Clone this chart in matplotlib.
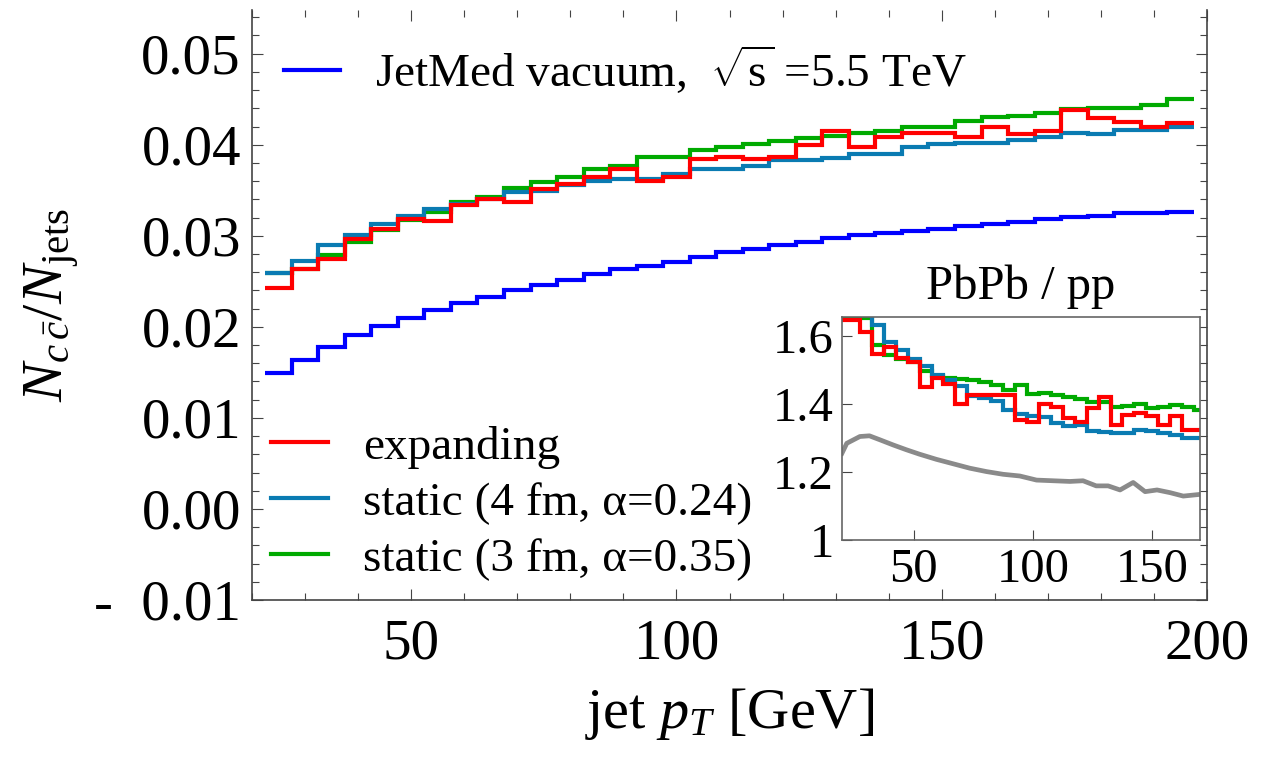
# charm-tagged jet fraction vs jet pT, with PbPb/pp ratio inset

import numpy as np
import matplotlib
matplotlib.use('Agg')
from matplotlib import pyplot as plt
from matplotlib.ticker import MultipleLocator, FixedLocator

plt.rcParams['font.family'] = 'Liberation Serif'
plt.rcParams['mathtext.fontset'] = 'custom'
plt.rcParams['mathtext.rm'] = 'Liberation Serif'
plt.rcParams['mathtext.it'] = 'Liberation Serif:italic'

# 5 GeV bins, centres in GeV
pt = np.arange(25, 200, 5)

vacuum = [0.0149, 0.0164, 0.0178, 0.0191, 0.0201, 0.0210, 0.0218, 0.0226, 0.0233, 0.0241,
          0.0246, 0.0251, 0.0258, 0.0263, 0.0267, 0.0271, 0.0277, 0.0282, 0.0286, 0.0290,
          0.0293, 0.0298, 0.0301, 0.0303, 0.0305, 0.0308, 0.0311, 0.0313, 0.0315, 0.0318,
          0.0321, 0.0322, 0.0325, 0.0325, 0.0326]
expanding = [0.0243, 0.0264, 0.0274, 0.0297, 0.0307, 0.0318, 0.0316, 0.0334, 0.0340, 0.0337,
             0.0351, 0.0357, 0.0365, 0.0373, 0.0360, 0.0365, 0.0384, 0.0387, 0.0384, 0.0387,
             0.0400, 0.0415, 0.0398, 0.0409, 0.0413, 0.0413, 0.0409, 0.0420, 0.0412, 0.0415,
             0.0438, 0.0429, 0.0425, 0.0420, 0.0424]
static4 = [0.0259, 0.0272, 0.0290, 0.0301, 0.0313, 0.0322, 0.0329, 0.0335, 0.0340, 0.0348,
           0.0349, 0.0356, 0.0360, 0.0362, 0.0362, 0.0368, 0.0373, 0.0373, 0.0377, 0.0383,
           0.0383, 0.0385, 0.0390, 0.0390, 0.0398, 0.0401, 0.0402, 0.0402, 0.0405, 0.0409,
           0.0413, 0.0412, 0.0416, 0.0416, 0.0420]
static3 = [0.0259, 0.0264, 0.0279, 0.0293, 0.0306, 0.0317, 0.0326, 0.0337, 0.0343, 0.0353,
           0.0359, 0.0365, 0.0373, 0.0377, 0.0387, 0.0387, 0.0394, 0.0398, 0.0401, 0.0404,
           0.0407, 0.0410, 0.0413, 0.0415, 0.0420, 0.0420, 0.0426, 0.0431, 0.0432, 0.0435,
           0.0439, 0.0440, 0.0440, 0.0444, 0.0450]

# inset: PbPb / pp ratio, bins 25..170 GeV
pt_ratio = np.arange(25, 175, 5)
ratio_exp = [1.647, 1.611, 1.546, 1.568, 1.536, 1.524, 1.450, 1.477, 1.458, 1.400,
             1.426, 1.426, 1.426, 1.426, 1.353, 1.348, 1.400, 1.392, 1.358, 1.348,
             1.389, 1.420, 1.338, 1.368, 1.374, 1.365, 1.338, 1.363, 1.324, 1.324]
ratio_s4 = [1.740, 1.660, 1.632, 1.583, 1.559, 1.531, 1.510, 1.485, 1.471, 1.453,
            1.422, 1.417, 1.407, 1.382, 1.371, 1.363, 1.361, 1.343, 1.336, 1.337,
            1.319, 1.318, 1.314, 1.313, 1.322, 1.319, 1.314, 1.307, 1.301, 1.301]
ratio_s3 = [1.652, 1.652, 1.574, 1.544, 1.532, 1.522, 1.495, 1.481, 1.476, 1.473,
            1.469, 1.465, 1.456, 1.441, 1.456, 1.429, 1.433, 1.426, 1.420, 1.414,
            1.404, 1.404, 1.392, 1.394, 1.400, 1.387, 1.390, 1.397, 1.392, 1.382]
gray_pt = [20, 22, 27.5, 31.5, 36, 41.5, 47, 52.5, 59.5, 66.5, 73.5, 80.5, 87.5, 94.5,
           101.5, 108.5, 115.5, 121, 126.5, 131.5, 136.5, 142, 147, 152, 157.5, 163, 170]
gray_ratio = [1.255, 1.284, 1.304, 1.306, 1.294, 1.279, 1.265, 1.252, 1.237, 1.224,
              1.211, 1.201, 1.193, 1.188, 1.176, 1.174, 1.172, 1.174, 1.159, 1.159,
              1.147, 1.169, 1.142, 1.147, 1.139, 1.129, 1.134]

yticks = [-0.01, 0.0, 0.01, 0.02, 0.03, 0.04, 0.05]
ylabels = ['-  0.01', '0.00', '0.01', '0.02', '0.03', '0.04', '0.05']

c_blue = '#0000ff'
c_red = '#ff0000'
c_teal = '#0a7bb2'
c_green = '#00aa00'
c_gray = '#8a8a8a'
spine_col = '#444444'
lw = 3.0

fig = plt.figure(figsize=(12.78, 7.59), dpi=100)
ax = fig.add_axes([252/1278, 1-600/759, 955/1278, 590/759])

edges = np.append(pt - 2.5, pt[-1] + 2.5)
h_vac = ax.stairs(vacuum, edges, color=c_blue, lw=lw, baseline=None)
h_s3 = ax.stairs(static3, edges, color=c_green, lw=lw, baseline=None)
h_s4 = ax.stairs(static4, edges, color=c_teal, lw=lw, baseline=None)
h_exp = ax.stairs(expanding, edges, color=c_red, lw=lw, baseline=None)

ax.set_xlim(20, 200)
ax.set_ylim(-0.01, 0.0548)
ax.xaxis.set_major_locator(FixedLocator([50, 100, 150, 200]))
ax.xaxis.set_minor_locator(MultipleLocator(10))
ax.yaxis.set_major_locator(FixedLocator(yticks))
ax.set_yticklabels(ylabels)
ax.yaxis.set_minor_locator(MultipleLocator(0.002))
ax.tick_params(which='both', direction='in', top=True, right=True, labelsize=41,
               width=0.8, color=spine_col)
ax.tick_params(axis='y', which='major', length=8, pad=8)
ax.tick_params(axis='x', which='major', length=8, pad=13)
ax.tick_params(which='minor', length=5)
ax.spines['top'].set_visible(False)
for s in ['left', 'right', 'bottom']:
    ax.spines[s].set_color(spine_col)
    ax.spines[s].set_linewidth(1.2)

ax.set_ylabel(r'$N_{c\,\bar{c}}/N_{\mathrm{jets}}$', fontsize=42)
ax.yaxis.set_label_coords(-0.178, 0.5)
ax.set_xlabel(r'jet $p_T$ [GeV]', fontsize=42)
ax.xaxis.set_label_coords(0.5, -0.146)

leg1 = ax.legend([h_vac], [r'JetMed vacuum,  $\sqrt{\mathrm{s}}$ =5.5 TeV'],
                 loc='center left', bbox_to_anchor=(0.0335, 0.898), frameon=False,
                 fontsize=34, handlelength=1.18, handletextpad=0.74,
                 borderpad=0, borderaxespad=0)
ax.add_artist(leg1)
ax.legend([h_exp, h_s4, h_s3],
          ['expanding', 'static (4 fm, α=0.24)', 'static (3 fm, α=0.35)'],
          loc='center left', bbox_to_anchor=(0.02, 0.164), frameon=False,
          fontsize=34, handlelength=1.2, handletextpad=0.74, labelspacing=0.27,
          borderpad=0, borderaxespad=0)

# inset
axin = fig.add_axes([842/1278, 1-540/759, 358/1278, 223/759])
redges = np.append(pt_ratio - 2.5, pt_ratio[-1] + 2.5)
redges[0] = 20
axin.plot(gray_pt, gray_ratio, color=c_gray, lw=3.4)
axin.stairs(ratio_s3, redges, color=c_green, lw=lw, baseline=None)
axin.stairs(ratio_s4, redges, color=c_teal, lw=lw, baseline=None)
axin.stairs(ratio_exp, redges, color=c_red, lw=lw, baseline=None)
axin.set_xlim(20, 170)
axin.set_ylim(1, 1.655)
axin.set_xticks([50, 100, 150])
axin.set_yticks([1, 1.2, 1.4, 1.6])
axin.set_yticklabels(['1', '1.2', '1.4', '1.6'])
axin.tick_params(direction='in', labelsize=35, length=7, width=0.8, pad=6, color=spine_col)
for s in axin.spines.values():
    s.set_color('#666666')
    s.set_linewidth(1.2)
axin.set_title('PbPb / pp', fontsize=35, pad=13)

fig.savefig('out.png', dpi=100)
